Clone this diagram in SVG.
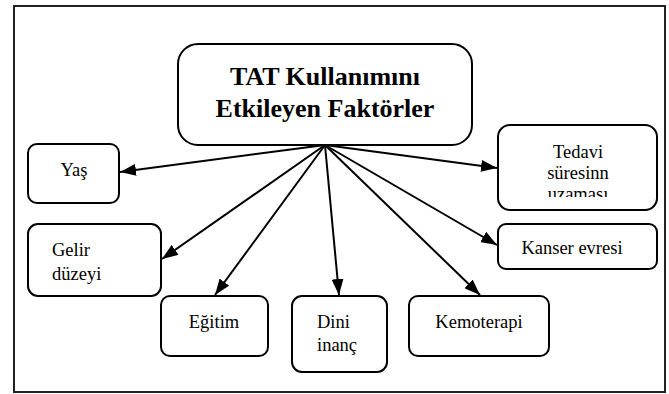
<svg xmlns="http://www.w3.org/2000/svg" width="669" height="394" viewBox="0 0 669 394">
<style>
.box{fill:#fff;stroke:#000;stroke-width:2}
.ln{stroke:#000;stroke-width:2;fill:none;marker-end:url(#ah)}
</style>
<defs>
<marker id="ah" markerWidth="16" markerHeight="12" refX="16" refY="6" orient="auto" markerUnits="userSpaceOnUse">
<path d="M0,0 L16,6 L0,12 Z" fill="#000"/>
</marker>
<clipPath id="clipTed"><rect x="498" y="125" width="159" height="72"/></clipPath>
</defs>
<rect width="669" height="394" fill="#fff"/>
<rect x="14" y="6" width="651" height="386" fill="none" stroke="#222" stroke-width="2"/>
<g id="center">
<rect class="box" x="178" y="44" width="294" height="101" rx="20"/>
<text x="325" y="85" font-family="Liberation Serif, serif" font-size="26" font-weight="bold" text-anchor="middle">TAT Kullanımını</text>
<text x="325" y="117" font-family="Liberation Serif, serif" font-size="26" font-weight="bold" text-anchor="middle">Etkileyen Faktörler</text>
</g>
<g id="yas">
<rect class="box" x="28" y="144" width="91" height="59" rx="9"/>
<text x="74" y="176" font-family="Liberation Serif, serif" font-size="18.5" text-anchor="middle">Yaş</text>
</g>
<g id="tedavi">
<rect class="box" x="498" y="125" width="159" height="85" rx="12"/>
<g clip-path="url(#clipTed)">
<text x="578" y="158" font-family="Liberation Serif, serif" font-size="18.5" text-anchor="middle">Tedavi</text>
<text x="578" y="179" font-family="Liberation Serif, serif" font-size="18.5" text-anchor="middle">süresinn</text>
<text x="578" y="200" font-family="Liberation Serif, serif" font-size="18.5" text-anchor="middle">uzaması</text>
</g>
</g>
<g id="gelir">
<rect class="box" x="28" y="224" width="133" height="72" rx="10"/>
<text x="52" y="256" font-family="Liberation Serif, serif" font-size="18.5">Gelir</text>
<text x="52" y="280" font-family="Liberation Serif, serif" font-size="18.5">düzeyi</text>
</g>
<g id="kanser">
<rect class="box" x="498" y="224" width="159" height="45" rx="8"/>
<text x="572" y="254" font-family="Liberation Serif, serif" font-size="18.5" text-anchor="middle">Kanser evresi</text>
</g>
<g id="egitim">
<rect class="box" x="161" y="296" width="107" height="60" rx="9"/>
<text x="214" y="328" font-family="Liberation Serif, serif" font-size="18.5" text-anchor="middle">Eğitim</text>
</g>
<g id="dini">
<rect class="box" x="292" y="296" width="95" height="76" rx="10"/>
<text x="317" y="328" font-family="Liberation Serif, serif" font-size="18.5">Dini</text>
<text x="317" y="351" font-family="Liberation Serif, serif" font-size="18.5">inanç</text>
</g>
<g id="kemoterapi">
<rect class="box" x="409" y="296" width="140" height="60" rx="9"/>
<text x="479" y="328" font-family="Liberation Serif, serif" font-size="18.5" text-anchor="middle">Kemoterapi</text>
</g>
<g id="connectors">
<line class="ln" x1="325" y1="145" x2="120" y2="172"/>
<line class="ln" x1="325" y1="145" x2="497" y2="168"/>
<line class="ln" x1="325" y1="145" x2="162" y2="259"/>
<line class="ln" x1="325" y1="145" x2="497" y2="245"/>
<line class="ln" x1="325" y1="145" x2="215" y2="295"/>
<line class="ln" x1="325" y1="145" x2="339" y2="295"/>
<line class="ln" x1="325" y1="145" x2="480" y2="295"/>
</g>
</svg>
